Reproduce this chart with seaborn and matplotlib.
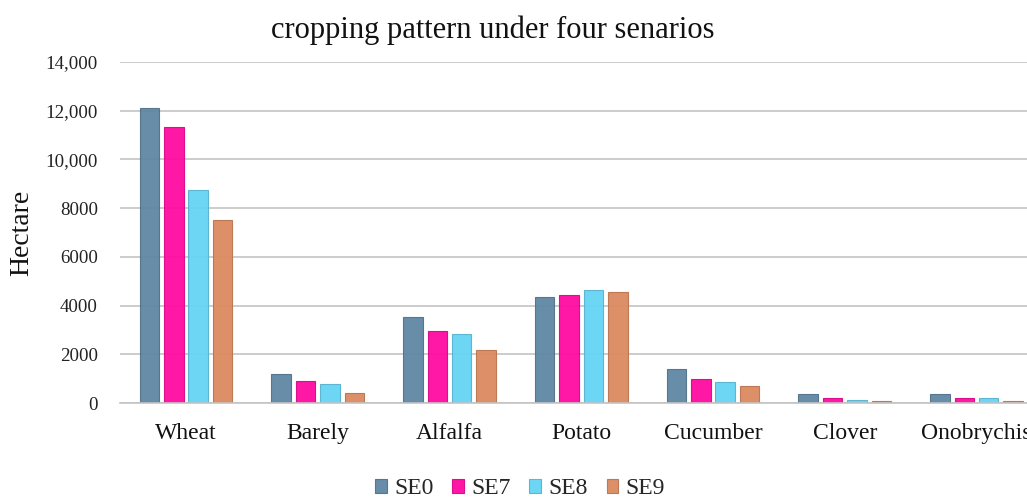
import pandas as pd
import matplotlib.pyplot as plt
import seaborn as sns

crops = ["Wheat", "Barely", "Alfalfa", "Potato", "Cucumber", "Clover", "Onobrychis"]
scenarios = ["SE0", "SE7", "SE8", "SE9"]
se0 = [12110, 1190, 3520, 4370, 1400, 360, 360]
se7 = [11330, 920, 2960, 4420, 990, 200, 210]
se8 = [8760, 770, 2820, 4650, 850, 130, 200]
se9 = [7520, 430, 2180, 4560, 700, 70, 70]
colors = ["#5f87a4", "#ff0aa0", "#66d4f5", "#dc8a5f"]
ytick_vals = [0, 2000, 4000, 6000, 8000, 10000, 12000, 14000]
ytick_labels = ["0", "2000", "4000", "6000", "8000", "10,000", "12,000", "14,000"]

df = pd.DataFrame({"crop": crops, "SE0": se0, "SE7": se7, "SE8": se8, "SE9": se9})
long = df.melt(id_vars="crop", var_name="scenario", value_name="hectare")

sns.set_theme(style="white")
plt.rcParams["font.family"] = ["Liberation Serif", "DejaVu Serif"]

fig = plt.figure(figsize=(10.27, 4.99), dpi=100)
ax = fig.add_axes([0.117, 0.192, 0.898, 0.684])

sns.barplot(data=long, x="crop", y="hectare", hue="scenario", order=crops,
            hue_order=scenarios, palette=colors, saturation=1, width=0.74, gap=0.2,
            linewidth=0.8, ax=ax, legend=True)

# slightly darker outline of each bar's own colour
for p in ax.patches:
    r, g, b, a = p.get_facecolor()
    p.set_edgecolor((r * 0.85, g * 0.85, b * 0.85, 1))
    p.set_alpha(0.95)

ax.set_ylim(0, 14000)
ax.set_xlim(-0.5, 6.5)
ax.set_yticks(ytick_vals)
ax.set_yticklabels(ytick_labels, fontsize=13.6, color="#222222")
ax.tick_params(axis="x", labelsize=17, length=0, pad=14, labelcolor="#111111")
ax.tick_params(axis="y", length=0, pad=16)
ax.yaxis.grid(True, color="#c4c4c4", linewidth=1.2)
ax.set_axisbelow(True)
for s in ["top", "right", "left"]:
    ax.spines[s].set_visible(False)
ax.spines["bottom"].set_color("#c4c4c4")
ax.spines["bottom"].set_linewidth(1.2)
ax.set_xlabel("")
ax.set_ylabel("")

fig.text(22 / 1027, 0.533, "Hectare", rotation=90, ha="center", va="center",
         fontsize=20, color="#111111")
fig.text(493 / 1027, 1 - 30 / 499, "cropping pattern under four senarios",
         ha="center", va="center", fontsize=22, color="#111111")

handles, labels = ax.get_legend_handles_labels()
ax.legend_.remove()
fig.legend(handles, labels, loc="center", bbox_to_anchor=(520 / 1027, 1 - 489 / 499), ncol=4,
           frameon=False, fontsize=17, handlelength=0.5, handleheight=0.5,
           handletextpad=0.3, columnspacing=0.8, borderpad=0)

fig.savefig("out.png", dpi=100)
